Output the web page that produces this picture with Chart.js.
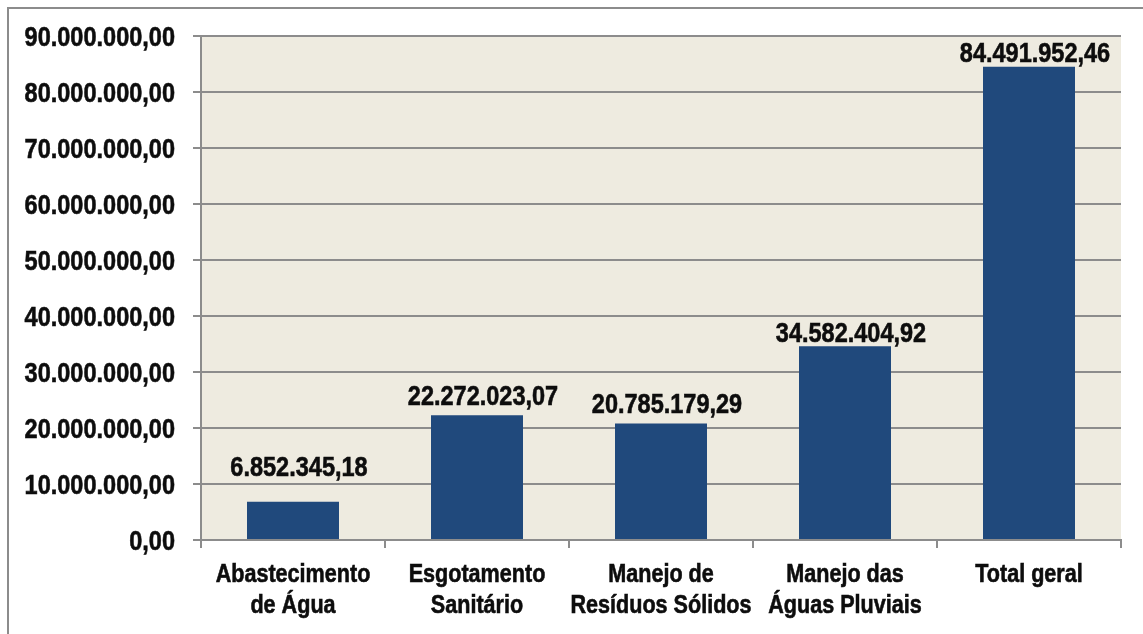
<!DOCTYPE html>
<html>
<head>
<meta charset="utf-8">
<script src="https://cdn.jsdelivr.net/npm/chart.js@4"></script>
<style>
  html, body { margin: 0; padding: 0; background: #fff; overflow: hidden; }
  #wrap { position: relative; width: 1143px; height: 634px; }
  #frame { position: absolute; left: 7px; top: 7px; width: 1200px; height: 700px; border: 2px solid #8c8c8c; box-sizing: border-box; }
  canvas { position: absolute; left: 0; top: 0; }
</style>
</head>
<body>
<div id="wrap">
  <div id="frame"></div>
  <canvas id="chart" width="1143" height="634"></canvas>
</div>
<script>
const categorias = [
    ['Abastecimento', 'de Água'],
    ['Esgotamento', 'Sanitário'],
    ['Manejo de', 'Resíduos Sólidos'],
    ['Manejo das', 'Águas Pluviais'],
    ['Total geral']
];
const valores = [6852345.18, 22272023.07, 20785179.29, 34582404.92, 84491952.46];

// distância (px) entre o topo da barra e a linha de base do rótulo
const folgaRotulo = [26, 10, 11, 4, 5];

const FONTE = "'Liberation Sans', Arial, sans-serif";

// formato brasileiro: 1.234.567,89
function formatBR(v) {
    const partes = v.toFixed(2).split('.');
    const inteiro = partes[0].replace(/\B(?=(\d{3})+(?!\d))/g, '.');
    return inteiro + ',' + partes[1];
}

// texto estreito (negrito condensado): escala horizontal + contorno fino
function textoEstreito(ctx, txt, x, y, escala) {
    ctx.save();
    ctx.translate(x, y);
    ctx.scale(escala, 1);
    ctx.fillText(txt, 0, 0);
    ctx.strokeText(txt, 0, 0);
    ctx.restore();
}

const fundoArea = {
    id: 'fundoArea',
    beforeDraw(chart) {
        const {ctx, chartArea: a} = chart;
        ctx.save();
        ctx.fillStyle = '#eeebe0';
        ctx.fillRect(a.left, a.top, a.right - a.left, a.bottom - a.top);
        ctx.restore();
    }
};

const textos = {
    id: 'textos',
    afterDraw(chart) {
        const ctx = chart.ctx;
        const sy = chart.scales.y, sx = chart.scales.x;
        ctx.save();
        ctx.fillStyle = '#0d0d0d';
        ctx.strokeStyle = '#0d0d0d';
        ctx.lineWidth = 0.6;

        // eixo y
        ctx.font = 'bold 28px ' + FONTE;
        ctx.textAlign = 'right';
        ctx.textBaseline = 'alphabetic';
        sy.ticks.forEach(t => {
            textoEstreito(ctx, formatBR(t.value), 175, sy.getPixelForValue(t.value) + 10, 0.84);
        });

        // categorias
        ctx.font = 'bold 26px ' + FONTE;
        ctx.textAlign = 'center';
        categorias.forEach((linhas, i) => {
            const x = sx.getPixelForTick(i);
            linhas.forEach((l, j) => textoEstreito(ctx, l, x, 582 + j * 31, 0.83));
        });

        // valores sobre as barras
        ctx.font = 'bold 28px ' + FONTE;
        const meta = chart.getDatasetMeta(0);
        meta.data.forEach((bar, i) => {
            textoEstreito(ctx, formatBR(valores[i]), bar.x + 6, bar.y - folgaRotulo[i], 0.84);
        });
        ctx.restore();
    }
};

new Chart(document.getElementById('chart').getContext('2d'), {
    type: 'bar',
    data: {
        labels: categorias,
        datasets: [{
            data: valores,
            backgroundColor: '#20497c',
            borderWidth: 0,
            barPercentage: 0.5,
            categoryPercentage: 1
        }]
    },
    options: {
        responsive: false,
        animation: false,
        layout: { padding: { top: 36, right: 22, left: 0, bottom: 0 } },
        plugins: {
            legend: { display: false },
            tooltip: { enabled: false }
        },
        scales: {
            x: {
                grid: { offset: true, drawOnChartArea: false, tickLength: 8, color: '#8c8c8c', lineWidth: 2 },
                border: { color: '#8c8c8c', width: 2 },
                ticks: { display: false, autoSkip: false },
                afterFit(s) { s.height = 94; }
            },
            y: {
                min: 0,
                max: 90000000,
                ticks: { display: false, stepSize: 10000000 },
                grid: { color: '#8c8c8c', lineWidth: 2, tickLength: 8 },
                border: { color: '#8c8c8c', width: 2 },
                afterFit(s) { s.width = 201; }
            }
        }
    },
    plugins: [fundoArea, textos]
});
</script>
</body>
</html>
